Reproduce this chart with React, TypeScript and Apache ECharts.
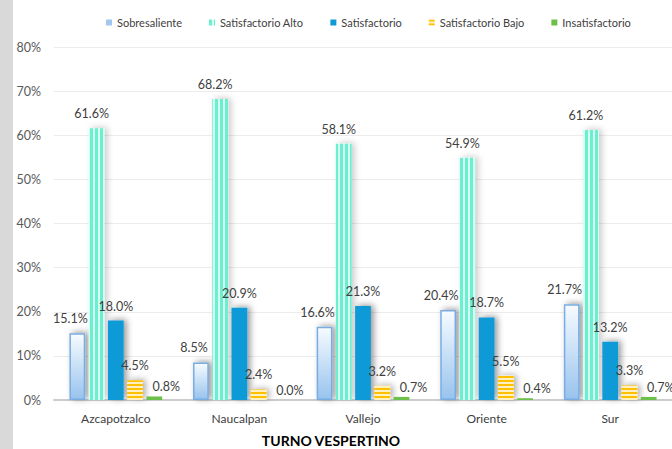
import React, { useEffect, useRef } from "react";
import * as echarts from "echarts";

const categories = ["Azcapotzalco", "Naucalpan", "Vallejo", "Oriente", "Sur"];
const seriesNames = ["Sobresaliente", "Satisfactorio Alto", "Satisfactorio", "Satisfactorio Bajo", "Insatisfactorio"];
const sobresaliente = [15.1, 8.5, 16.6, 20.4, 21.7];
const satisfactorioAlto = [61.6, 68.2, 58.1, 54.9, 61.2];
const satisfactorio = [18.0, 20.9, 21.3, 18.7, 13.2];
const satisfactorioBajo = [4.5, 2.4, 3.2, 5.5, 3.3];
const insatisfactorio = [0.8, 0.0, 0.7, 0.4, 0.7];
const yMin = 0;
const yMax = 80;
const yInterval = 10;
const title = "TURNO VESPERTINO";

const FONT = "Lato, 'Noto Sans', sans-serif";

function makePattern(w: number, h: number, draw: (ctx: CanvasRenderingContext2D) => void) {
  const c = document.createElement("canvas");
  c.width = w;
  c.height = h;
  const ctx = c.getContext("2d") as CanvasRenderingContext2D;
  draw(ctx);
  return { image: c, repetition: "repeat", imageWidth: w, imageHeight: h } as any;
}

export default function App() {
  const ref = useRef<HTMLDivElement>(null);
  useEffect(() => {
    if (!ref.current) return;
    const chart = echarts.init(ref.current, undefined, { renderer: "svg" });

    const vStripes = makePattern(5, 4, (ctx) => {
      ctx.fillStyle = "#d6fff2";
      ctx.fillRect(0, 0, 5, 4);
      ctx.fillStyle = "#6cefd0";
      ctx.fillRect(0, 0, 3, 4);
    });
    const hStripes = makePattern(4, 4, (ctx) => {
      ctx.fillStyle = "#fff1bf";
      ctx.fillRect(0, 0, 4, 4);
      ctx.fillStyle = "#ffc000";
      ctx.fillRect(0, 0, 4, 2);
    });

    const shadow = {
      shadowColor: "rgba(0,0,0,0.4)",
      shadowBlur: 6,
      shadowOffsetX: 3,
      shadowOffsetY: -1,
    };
    const label = (dx: number, dist: number) => ({
      show: true,
      position: "top",
      distance: dist,
      offset: [dx, 0],
      color: "#404040",
      fontSize: 12.5,
      fontFamily: FONT,
      formatter: (p: any) => `${Number(p.value).toFixed(1)}%`,
    });

    const datasets = [sobresaliente, satisfactorioAlto, satisfactorio, satisfactorioBajo, insatisfactorio];
    const styles: any[] = [
      {
        color: new echarts.graphic.LinearGradient(0, 0, 0, 1, [
          { offset: 0, color: "#f7fbff" },
          { offset: 1, color: "#98c3ee" },
        ]),
        borderColor: "#79ade2",
        borderWidth: 1.5,
        ...shadow,
      },
      { color: vStripes, ...shadow, shadowColor: "rgba(0,0,0,0.2)" },
      { color: "#0e9ad7", ...shadow },
      { color: hStripes, ...shadow, shadowColor: "rgba(0,0,0,0.3)" },
      { color: "#6cc04a" },
    ];
    const legendColors = ["#a3c6ee", vStripes, "#0e9ad7", hStripes, "#6cc04a"];
    const labels = [label(-7, 8), label(-5, 8), label(0, 8), label(0, 8), label(12, 3)];

    const series = datasets.map((d, i) => ({
      name: seriesNames[i],
      type: "bar",
      data: d,
      barCategoryGap: "25%",
      barGap: "22%",
      itemStyle: styles[i],
      label: labels[i],
      emphasis: { disabled: true },
    }));

    chart.setOption({
      animation: false,
      backgroundColor: "#ffffff",
      legend: {
        left: 101,
        top: 12,
        itemWidth: 6,
        itemHeight: 6,
        itemGap: 27,
        icon: "rect",
        textStyle: { fontSize: 11, color: "#404040", fontFamily: FONT },
        data: seriesNames.map((n, i) => ({ name: n, itemStyle: { color: legendColors[i], borderWidth: 0, shadowBlur: 0 } })),
      },
      grid: { left: 54, right: -13, top: 47, bottom: 49, containLabel: false },
      xAxis: {
        type: "category",
        data: categories,
        axisTick: { show: false },
        axisLine: { lineStyle: { color: "#cccccc", width: 2 } },
        axisLabel: { color: "#404040", fontSize: 12, fontFamily: FONT, margin: 12 },
      },
      yAxis: {
        type: "value",
        min: yMin,
        max: yMax,
        interval: yInterval,
        axisLine: { show: false },
        axisTick: { show: false },
        splitLine: { lineStyle: { color: "#ececec", width: 1 } },
        axisLabel: { color: "#595959", fontSize: 12.5, fontFamily: FONT, margin: 13, formatter: "{value}%" },
      },
      graphic: [
        { type: "rect", left: 0, top: 0, shape: { width: 13, height: 449 }, style: { fill: "#d9d9d9" }, z: 100 },
        {
          type: "text",
          x: 331,
          y: 440,
          style: {
            text: title,
            fontSize: 14,
            fontWeight: "bold",
            fontFamily: FONT,
            fill: "#000000",
            align: "center",
            verticalAlign: "middle",
          },
        },
      ],
      series,
    });
    return () => chart.dispose();
  }, []);
  return <div ref={ref} style={{ position: "fixed", left: 0, top: 0, width: 672, height: 449 }} />;
}
